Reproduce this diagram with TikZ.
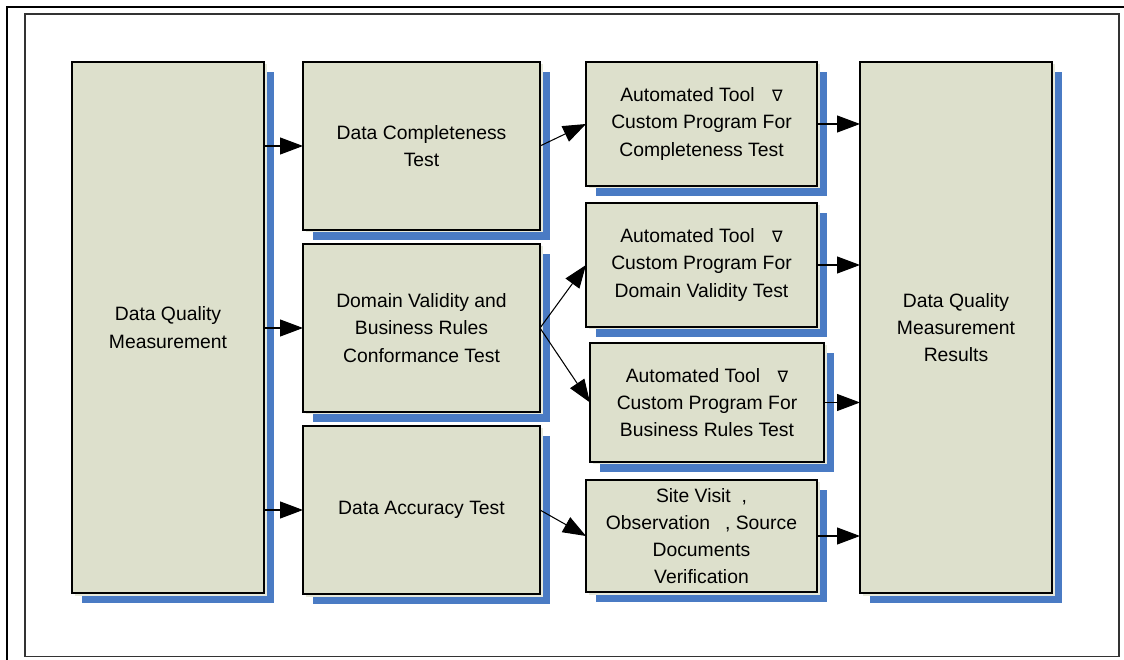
\documentclass[tikz,border=0pt]{standalone}
\usepackage{fontspec}
\setmainfont{Liberation Sans}
\newfontfamily\symfont{DejaVu Sans}
\usetikzlibrary{positioning,shadows,arrows.meta}
\definecolor{boxfill}{HTML}{DDE0CC}
\definecolor{shadowblue}{HTML}{4A7BC4}
\tikzstyle{block} = [rectangle, draw=black, line width=0.8pt, fill=boxfill, align=center, inner sep=0pt, outer sep=0pt,
  font=\fontsize{11}{15.5}\selectfont,
  general shadow={shadow xshift=0.2cm, shadow yshift=-0.2cm, fill=shadowblue},
  general shadow={shadow xshift=0.05cm, shadow yshift=-0.05cm, fill=boxfill!70!white}]
\tikzstyle{tallblock} = [block, minimum width=3.84cm, minimum height=10.62cm]
\tikzstyle{testblock} = [block, minimum width=4.74cm, minimum height=3.36cm]
\tikzstyle{toolblock} = [block, minimum width=4.62cm, minimum height=2.48cm]
\tikzstyle{line} = [draw, line width=0.6pt, -{Triangle[length=0.46cm, width=0.34cm]}]
\newcommand{\tri}{\hspace{0.35cm}{\symfont\small ∇}}

\begin{document}
\begin{tikzpicture}[node distance=0.28cm and 0.78cm]
    \useasboundingbox (0,0) rectangle (22.48,-13.2);
    % frames
    \draw[line width=1.2pt] (0.14,-13.2) -- (0.14,-0.14) -- (22.48,-0.14);
    \draw[line width=0.7pt, black!80] (0.5,-0.28) rectangle (22.38,-13.13);

    \node [tallblock] (dqm) at (3.36,-6.55) {Data Quality\\Measurement};
    \node [testblock, below right=0cm and 0.78cm of dqm.north east] (comp) {Data Completeness\\Test};
    \node [testblock, below=of comp] (dom) {Domain Validity and\\Business Rules\\Conformance Test};
    \node [testblock, below=of dom] (acc) {Data Accuracy Test};

    \node [toolblock, below right=0cm and 0.92cm of comp.north east] (tool1) {Automated Tool\tri\\Custom Program For\\Completeness Test};
    \node [toolblock, below=0.34cm of tool1] (tool2) {Automated Tool\tri\\Custom Program For\\Domain Validity Test};
    \node [toolblock, minimum width=4.68cm, minimum height=2.38cm, below right=0.32cm and 0.08cm of tool2.south west] (tool3) {Automated Tool\tri\\Custom Program For\\Business Rules Test};
    \node [toolblock, minimum height=2.24cm, below right=0.36cm and -0.08cm of tool3.south west] (site) {Site Visit\ \ ,\\Observation\hspace{0.3cm}, Source\\Documents\\Verification};

    \node [tallblock, below right=0cm and 0.86cm of tool1.north east] (res) {Data Quality\\Measurement\\Results};

    % arrows
    \draw[line] (comp.west -| dqm.east) -- (comp.west);
    \draw[line] (dom.west -| dqm.east) -- (dom.west);
    \draw[line] (acc.west -| dqm.east) -- (acc.west);
    \draw[line] (comp.east) -- (tool1.west);
    \draw[line] (dom.east) -- (tool2.west);
    \draw[line] (dom.east) -- (tool3.west);
    \draw[line] (acc.east) -- (site.west);
    \draw[line] (tool1.east) -- (tool1.east -| res.west);
    \draw[line] (tool2.east) -- (tool2.east -| res.west);
    \draw[line] (tool3.east) -- (tool3.east -| res.west);
    \draw[line] (site.east) -- (site.east -| res.west);
\end{tikzpicture}
\end{document}
